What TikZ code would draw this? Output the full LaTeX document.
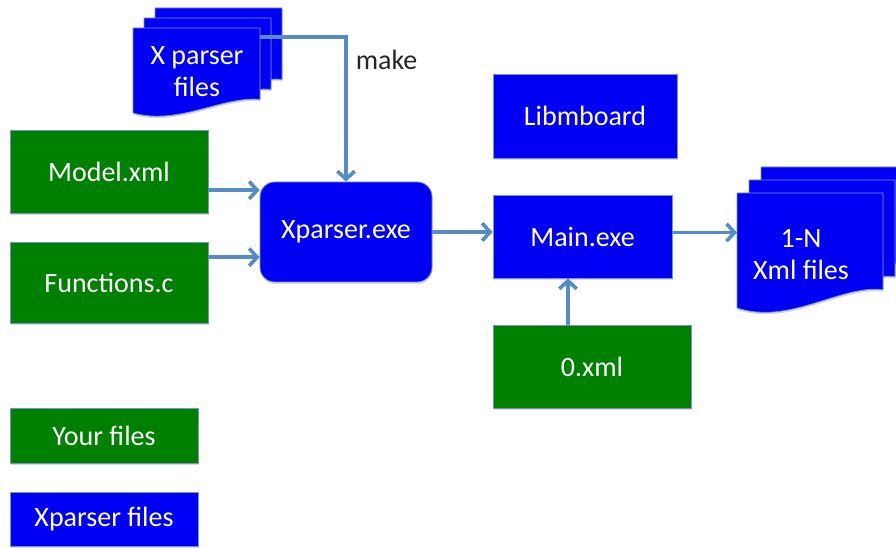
\documentclass[tikz,border=0pt]{standalone}
\usepackage{fontspec}
\setmainfont{Carlito}
\usepackage{xcolor}
\usetikzlibrary{arrows.meta,shadows}

\definecolor{ownfill}{RGB}{0,128,0}
\definecolor{xpfill}{RGB}{0,0,245}
\definecolor{edgeblue}{RGB}{120,150,195}
\definecolor{flowblue}{RGB}{85,140,198}

\tikzset{
	boxshadow/.style={drop shadow={shadow xshift=0.4pt, shadow yshift=-1.5pt, opacity=0.3, fill=gray}},
	filebox/.style={draw=edgeblue, line width=0.6pt, inner sep=0pt, text=white, align=center,
		font=\fontsize{21}{24}\selectfont, boxshadow},
	yourfile/.style={filebox, fill=ownfill},
	xpfile/.style={filebox, fill=xpfill},
	page/.style={fill=xpfill, draw=edgeblue, line width=0.6pt, boxshadow},
	pagetext/.style={text=white, align=center, font=\fontsize{21}{24}\selectfont},
	flow/.style={draw=flowblue, line width=2.7pt, -{Straight Barb[length=6pt,width=13pt]}}
}

% one sheet of a file stack: left, top, right, bottom
\newcommand{\filepage}[4]{%
	\filldraw[page] (#1,#2) -- (#3,#2) -- (#3,{#4-0.16*(#4-#2)})
		.. controls ({#3-0.3*(#3-#1)},{#4-0.2*(#4-#2)}) and ({#1+0.36*(#3-#1)},{#4+0.15*(#4-#2)}) .. (#1,#4) -- cycle;}

\begin{document}
\begin{tikzpicture}[x=0.75pt,y=-0.75pt]

	\useasboundingbox (0,0) rectangle (896,548);
	\clip (0,0) rectangle (896,548);

	% x parser sources
	\filepage{155}{8}{282}{93}
	\filepage{144}{18}{271}{103}
	\filepage{133}{28}{260}{113}
	\node[pagetext] (xpsrc) at (197,72) {X parser\\files};

	% output files
	\filepage{761}{167}{907}{282}
	\filepage{749}{180}{895}{295}
	\filepage{737}{193}{883}{308}
	\node[pagetext] (xmlout) at (801,255) {1-N\\Xml files};

	\node[yourfile, minimum width=148.5pt, minimum height=62.25pt] (model) at (109,171.5) {Model.xml};
	\node[yourfile, minimum width=148.5pt, minimum height=60.75pt] (funcs) at (109,282.5) {Functions.c};
	\node[xpfile, rounded corners=11pt, minimum width=129pt, minimum height=75pt] (xpexe) at (346,232) {Xparser.exe};
	\node[xpfile, minimum width=138pt, minimum height=63pt] (libmb) at (585,116) {Libmboard};
	\node[xpfile, minimum width=134.25pt, minimum height=62.25pt] (mainexe) at (582.5,236.5) {Main.exe};
	\node[yourfile, minimum width=148.5pt, minimum height=62.25pt] (zeroxml) at (592,366.5) {0.xml};

	% legend
	\node[yourfile, minimum width=141pt, minimum height=41.25pt] (keyown) at (104,435.5) {Your files};
	\node[xpfile, minimum width=141pt, minimum height=40.5pt] (keyxp) at (104,519) {Xparser files};

	\coordinate (srcout) at (260,37);
	\coordinate (docin) at (737,232);
	\coordinate (m1) at ([yshift=-14pt]model.east);
	\coordinate (f1) at ([yshift=19pt]funcs.east);
	\coordinate (o1) at ([yshift=3pt]mainexe.east);
	\coordinate (z1) at ([xshift=-18pt]zeroxml.north);

	\draw[flow] (srcout) -| (xpexe.north)
		node[pos=0.58, right, inner sep=6pt, text=black!85, font=\fontsize{21}{24}\selectfont] (makelbl) {make};
	\draw[flow] (m1) -- (m1 -| xpexe.west);
	\draw[flow] (f1) -- (f1 -| xpexe.west);
	\draw[flow] (xpexe.east) -- (xpexe.east -| mainexe.west);
	\draw[flow] (o1) -- (o1 -| docin);
	\draw[flow] (z1) -- (z1 |- mainexe.south);

\end{tikzpicture}
\end{document}
